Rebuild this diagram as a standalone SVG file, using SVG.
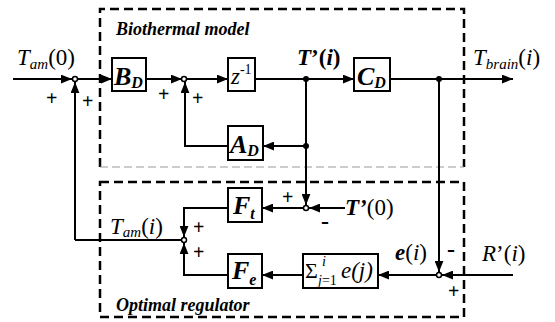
<svg xmlns="http://www.w3.org/2000/svg" width="555" height="322" viewBox="0 0 555 322">
<defs>
<marker id="ar" viewBox="0 0 10 8" refX="10" refY="4" markerWidth="11" markerHeight="9" markerUnits="userSpaceOnUse" orient="auto"><path d="M0,0 L10,4 L0,8 z" fill="#000"/></marker>
</defs>
<style>
.ln{fill:none;stroke:#000;stroke-width:2}
.bx{fill:#fff;stroke:#000;stroke-width:2}
.grp{fill:none;stroke:#000;stroke-width:2.5;stroke-dasharray:9 5}
.sep{fill:none;stroke:#999;stroke-width:1;stroke-dasharray:8 4}
.jn{fill:#fff;stroke:#000;stroke-width:1.5}
.dot{fill:#000}
text{font-family:'Liberation Serif','Times New Roman',serif}
.t{font-size:23px;font-style:italic}
.s{font-size:15px;font-style:italic}
.bl{font-size:26px;font-weight:bold;font-style:italic}
.bs{font-size:16px;font-weight:bold;font-style:italic}
.pl{font-size:20px;font-weight:bold}
.mn{font-size:24px;font-weight:bold}
.ttl{font-size:18px;font-weight:bold;font-style:italic}
</style>
<rect width="555" height="322" fill="#fff"/>

<g id="frames">
<path class="grp" d="M100,167 V9 H464 V167"/>
<path class="sep" d="M100,167 H464"/>
<rect class="grp" x="100" y="182" width="364" height="135"/>
<text class="ttl" x="116" y="35">Biothermal model</text>
<text class="ttl" x="116" y="311">Optimal regulator</text>
</g>

<g id="connectors">
<path class="ln" d="M13,79 H72" marker-end="url(#ar)"/>
<path class="ln" d="M77,79 H112" marker-end="url(#ar)"/>
<path class="ln" d="M75,240 V82" marker-end="url(#ar)"/>
<path class="ln" d="M181,240 H75"/>
<path class="ln" d="M146,79 H182" marker-end="url(#ar)"/>
<path class="ln" d="M187,79 H228" marker-end="url(#ar)"/>
<path class="ln" d="M228,146 H185 V82" marker-end="url(#ar)"/>
<path class="ln" d="M255,79 H354" marker-end="url(#ar)"/>
<path class="ln" d="M390,79 H513" marker-end="url(#ar)"/>
<path class="ln" d="M306,146 H263" marker-end="url(#ar)"/>
<path class="ln" d="M306,79 V205" marker-end="url(#ar)"/>
<path class="ln" d="M345,208 H309" marker-end="url(#ar)"/>
<path class="ln" d="M303,208 H262" marker-end="url(#ar)"/>
<path class="ln" d="M228,208 H184 V237" marker-end="url(#ar)"/>
<path class="ln" d="M228,275 H184 V243" marker-end="url(#ar)"/>
<path class="ln" d="M303,275 H262" marker-end="url(#ar)"/>
<path class="ln" d="M436,275 H378" marker-end="url(#ar)"/>
<path class="ln" d="M513,275 H442" marker-end="url(#ar)"/>
<path class="ln" d="M439,79 V272" marker-end="url(#ar)"/>
<circle class="dot" cx="306" cy="79" r="3"/>
<circle class="dot" cx="306" cy="146" r="3"/>
<circle class="dot" cx="439" cy="79" r="3"/>
</g>

<g id="sum1"><circle class="jn" cx="75" cy="79" r="2.5"/>
<text class="pl" x="46" y="105">+</text><text class="pl" x="82" y="108">+</text></g>
<g id="sum2"><circle class="jn" cx="184" cy="79" r="2.5"/>
<text class="pl" x="158" y="101">+</text><text class="pl" x="192" y="105">+</text></g>
<g id="sum3"><circle class="jn" cx="306" cy="208" r="2.5"/>
<text class="pl" x="282" y="204">+</text><text class="mn" x="321" y="229">-</text></g>
<g id="sum4"><circle class="jn" cx="184" cy="240" r="2.5"/>
<text class="pl" x="193" y="234">+</text><text class="pl" x="193" y="259">+</text></g>
<g id="sum5"><circle class="jn" cx="439" cy="275" r="2.5"/>
<text class="mn" x="447" y="257">-</text><text class="pl" x="448" y="298">+</text></g>

<g id="BD"><rect class="bx" x="112" y="58" width="34" height="33"/>
<text x="114" y="85"><tspan class="bl">B</tspan><tspan class="bs" dy="3">D</tspan></text></g>
<g id="z"><rect class="bx" x="228" y="58" width="27" height="33"/>
<text x="231" y="84"><tspan class="t" font-size="22">z</tspan><tspan font-size="14" dy="-10">-1</tspan></text></g>
<g id="CD"><rect class="bx" x="354" y="58" width="36" height="33"/>
<text x="357" y="85"><tspan class="bl">C</tspan><tspan class="bs" dy="3">D</tspan></text></g>
<g id="AD"><rect class="bx" x="228" y="126" width="35" height="34"/>
<text x="230" y="153"><tspan class="bl">A</tspan><tspan class="bs" dy="3">D</tspan></text></g>
<g id="Ft"><rect class="bx" x="228" y="188" width="34" height="34"/>
<text x="233" y="214"><tspan class="bl">F</tspan><tspan class="bs" dy="5">t</tspan></text></g>
<g id="Fe"><rect class="bx" x="228" y="254" width="34" height="34"/>
<text x="232" y="279"><tspan class="bl">F</tspan><tspan class="bs" dy="6">e</tspan></text></g>
<g id="Sum"><rect class="bx" x="303" y="254" width="75" height="34"/>
<text x="305" y="278" font-size="22">Σ</text>
<text x="322" y="266" font-size="14" font-style="italic">i</text>
<text x="318" y="285" font-size="14"><tspan font-style="italic">j</tspan>=1</text>
<text class="t" x="341" y="278" font-size="22">e(j)</text></g>

<g id="labels">
<text x="17" y="65"><tspan class="t">T</tspan><tspan class="s" dy="4">am</tspan><tspan font-size="23" dy="-4">(0)</tspan></text>
<text x="297" y="65" font-size="23" font-weight="bold"><tspan font-style="italic">T</tspan>’(<tspan font-style="italic">i</tspan>)</text>
<text x="473" y="65"><tspan class="t">T</tspan><tspan class="s" dy="4">brain</tspan><tspan font-size="23" dy="-4">(<tspan font-style="italic">i</tspan>)</tspan></text>
<text x="345" y="215" font-size="23"><tspan font-weight="bold" font-style="italic">T’</tspan>(0)</text>
<text x="110" y="234"><tspan class="t">T</tspan><tspan class="s" dy="3">am</tspan><tspan font-size="23" dy="-3">(<tspan font-style="italic">i</tspan>)</tspan></text>
<text x="395" y="260" font-size="23"><tspan font-weight="bold" font-style="italic">e</tspan>(<tspan font-style="italic">i</tspan>)</text>
<text x="482" y="261" font-size="23"><tspan font-style="italic">R</tspan>’(<tspan font-style="italic">i</tspan>)</text>
</g>
</svg>
